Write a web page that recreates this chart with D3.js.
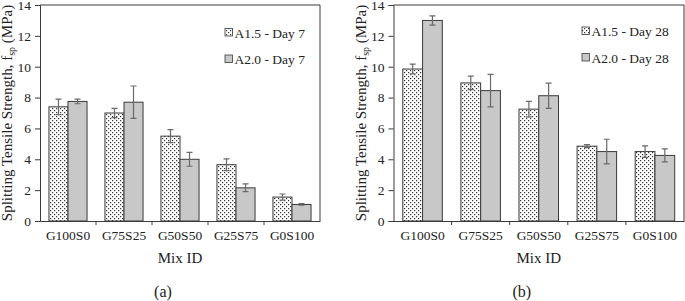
<!DOCTYPE html>
<html>
<head>
<meta charset="utf-8">
<script src="https://cdn.jsdelivr.net/npm/d3@7"></script>
<style>
  body { margin: 0; background: #fff; }
  svg { display: block; font-family: "Liberation Serif", "Times New Roman", serif; }
</style>
</head>
<body>
<svg id="chart" width="685" height="301"></svg>
<script>
// categories and tick labels
const mixes = ['G100S0', 'G75S25', 'G50S50', 'G25S75', 'G0S100'];
const yTicks = [0, 2, 4, 6, 8, 10, 12, 14];

// day 7 (a)
const a15Day7    = [7.4, 7.0, 5.5, 3.65, 1.55];
const a15Day7Err = [0.5, 0.3, 0.42, 0.38, 0.2];
const a20Day7    = [7.75, 7.7, 4.0, 2.15, 1.07];
const a20Day7Err = [0.15, 1.05, 0.45, 0.25, 0.05];

// day 28 (b)
const a15Day28    = [9.85, 8.95, 7.25, 4.85, 4.5];
const a15Day28Err = [0.32, 0.44, 0.5, 0.1, 0.37];
const a20Day28    = [13.0, 8.45, 8.12, 4.5, 4.25];
const a20Day28Err = [0.3, 1.05, 0.82, 0.8, 0.42];

const svg = d3.select('#chart');

// dotted fill for A1.5 bars
const defs = svg.append('defs');
const pat = defs.append('pattern')
    .attr('id', 'dots').attr('patternUnits', 'userSpaceOnUse')
    .attr('width', 4).attr('height', 4);
pat.append('rect').attr('width', 4).attr('height', 4).attr('fill', '#fff');
pat.append('rect').attr('x', 0).attr('y', 0).attr('width', 1.2).attr('height', 1.2).attr('fill', '#333');
pat.append('rect').attr('x', 2).attr('y', 2).attr('width', 1.2).attr('height', 1.2).attr('fill', '#333');

const GREY = '#c8c8c8';
const EDGE = '#3a3a3a';
const ERR  = '#6a6a6a';

function drawPanel({ left, right, top, bottom, s1, e1, s2, e2, names, tag, legX, legY }) {
    const g = svg.append('g');

    const x = d3.scaleBand().domain(mixes).range([left, right])
        .paddingInner(0.32).paddingOuter(0.16);
    const x2 = d3.scaleBand().domain([0, 1]).range([0, x.bandwidth()]);
    const y = d3.scaleLinear().domain([0, 14]).range([bottom, top]);

    // frame top/right
    g.append('path')
        .attr('d', `M${left},${top}H${right}V${bottom}`)
        .attr('fill', 'none').attr('stroke', EDGE).attr('stroke-width', 1);

    const series = [
        { vals: s1, errs: e1, fill: 'url(#dots)' },
        { vals: s2, errs: e2, fill: GREY },
    ];

    series.forEach((s, si) => {
        g.append('g').selectAll('rect')
            .data(mixes)
            .join('rect')
            .attr('x', d => x(d) + x2(si))
            .attr('y', (d, i) => y(s.vals[i]))
            .attr('width', x2.bandwidth())
            .attr('height', (d, i) => bottom - y(s.vals[i]))
            .attr('fill', s.fill)
            .attr('stroke', EDGE).attr('stroke-width', 1);

        const eb = g.append('g').attr('stroke', ERR).attr('stroke-width', 1.2).attr('fill', 'none');
        eb.selectAll('path')
            .data(mixes)
            .join('path')
            .attr('d', (d, i) => {
                const cx = x(d) + x2(si) + x2.bandwidth() / 2;
                const y0 = y(s.vals[i] - s.errs[i]);
                const y1 = y(s.vals[i] + s.errs[i]);
                return `M${cx - 3},${y1}H${cx + 3}M${cx},${y1}V${y0}M${cx - 3},${y0}H${cx + 3}`;
            });
    });

    // y axis
    const ya = g.append('g').attr('transform', `translate(${left},0)`)
        .call(d3.axisLeft(y).tickValues(yTicks).tickSize(5).tickPadding(4).tickFormat(d3.format('d')));
    ya.select('.domain').attr('stroke', EDGE);
    ya.selectAll('.tick line').attr('stroke', EDGE);
    ya.selectAll('.tick text').attr('font-size', 13.5).attr('fill', '#222')
        .attr('font-family', '"Liberation Serif", serif');

    // x axis: ticks sit between categories
    const xa = g.append('g').attr('transform', `translate(0,${bottom})`)
        .call(d3.axisBottom(x).tickSize(0).tickPadding(9));
    xa.select('.domain').attr('stroke', EDGE);
    xa.selectAll('.tick text').attr('font-size', 13.5).attr('fill', '#222')
        .attr('font-family', '"Liberation Serif", serif');
    g.append('g').selectAll('line')
        .data(mixes.slice(1))
        .join('line')
        .attr('x1', d => x(d) - x.step() * x.paddingInner() / 2)
        .attr('x2', d => x(d) - x.step() * x.paddingInner() / 2)
        .attr('y1', bottom).attr('y2', bottom + 4)
        .attr('stroke', EDGE);

    // axis titles
    const yl = g.append('text')
        .attr('transform', `translate(${left - 28},${(top + bottom) / 2}) rotate(-90)`)
        .attr('text-anchor', 'middle').attr('font-size', 15).attr('fill', '#222');
    yl.append('tspan').text('Splitting Tensile Strength, f');
    yl.append('tspan').attr('font-size', 10).attr('dy', 3).text('sp');
    yl.append('tspan').attr('dy', -3).text(' (MPa)');

    g.append('text')
        .attr('x', (left + right) / 2).attr('y', bottom + 42)
        .attr('text-anchor', 'middle').attr('font-size', 15).attr('fill', '#222')
        .text('Mix ID');

    g.append('text')
        .attr('x', (left + right) / 2 - 17).attr('y', 297)
        .attr('text-anchor', 'middle').attr('font-size', 16).attr('fill', '#222')
        .text(tag);

    // legend
    const lg = g.append('g');
    [{ fill: 'url(#dots)', name: names[0] }, { fill: GREY, name: names[1] }].forEach((it, i) => {
        const cy = legY + i * 26.5;
        lg.append('rect').attr('x', legX).attr('y', cy - 4).attr('width', 7.5).attr('height', 7.5)
            .attr('fill', it.fill).attr('stroke', EDGE).attr('stroke-width', 0.8);
        lg.append('text').attr('x', legX + 9.5).attr('y', cy + 5)
            .attr('font-size', 13.5).attr('fill', '#222').text(it.name);
    });
}

drawPanel({
    left: 40, right: 320, top: 5, bottom: 221,
    s1: a15Day7, e1: a15Day7Err, s2: a20Day7, e2: a20Day7Err,
    names: ['A1.5 - Day 7', 'A2.0 - Day 7'], tag: '(a)', legX: 225, legY: 32.5
});

drawPanel({
    left: 393.5, right: 684, top: 5, bottom: 221,
    s1: a15Day28, e1: a15Day28Err, s2: a20Day28, e2: a20Day28Err,
    names: ['A1.5 - Day 28', 'A2.0 - Day 28'], tag: '(b)', legX: 582, legY: 31
});
</script>
</body>
</html>
